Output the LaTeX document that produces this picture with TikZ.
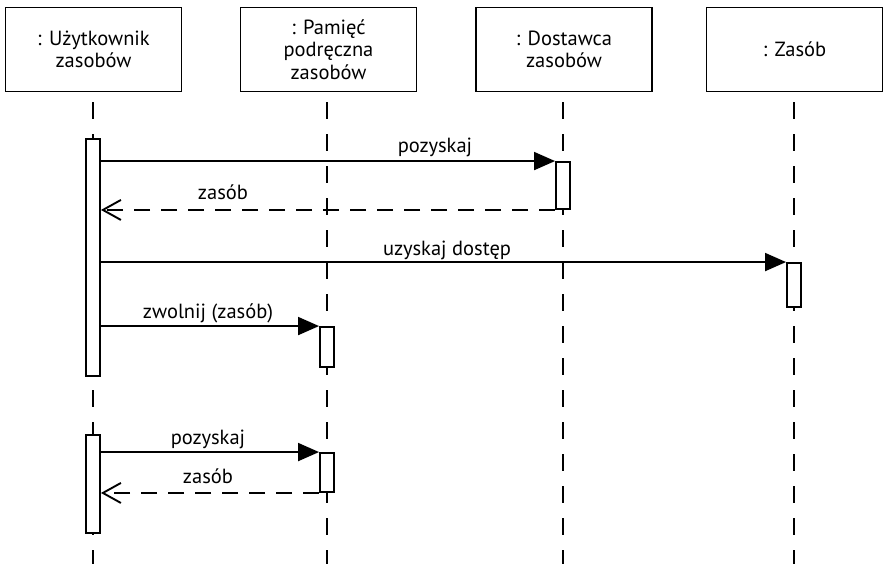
\documentclass[tikz,border=0pt]{standalone}
\usepackage{fontspec}
\setmainfont{PT Sans}
\usetikzlibrary{arrows.meta}
\begin{document}
\begin{tikzpicture}[x=1pt,y=-1pt,
  head/.style={draw, line width=1.9pt, minimum width=176pt, minimum height=84pt, align=center, font=\fontsize{20.5}{22.5}\selectfont, inner sep=0pt},
  act/.style={draw, fill=white, line width=1.9pt, minimum width=14pt, inner sep=0pt},
  life/.style={line width=1.9pt, dash pattern=on 17pt off 15pt},
  call/.style={line width=1.9pt, -{Triangle[length=21pt,width=18pt]}},
  ret/.style={line width=1.9pt, dash pattern=on 16pt off 11pt, -{Straight Barb[length=18pt,width=20pt]}},
  lbl/.style={font=\fontsize{20.5}{22.5}\selectfont, anchor=base, inner sep=0pt}]
\useasboundingbox (0,0) rectangle (886,564);
\coordinate (bot) at (0,566);
% headers
\node[head] (h1) at (93.5,49.5) {: Użytkownik\\zasobów};
\node[head] (h2) at (328.5,49.5) {: Pamięć\\podręczna\\zasobów};
\node[head] (h3) at (564,49.5) {: Dostawca\\zasobów};
\node[head] (h4) at (794.5,49.5) {: Zasób};
% lifeline anchors
\coordinate (x1) at (93,0);
\coordinate (x2) at (327,0);
\coordinate (x3) at (563,0);
\coordinate (x4) at (794,0);
% lifelines
\draw[life] ([yshift=-10pt]h1.south -| x1) -- (x1 |- bot);
\draw[life] ([yshift=-10pt]h2.south -| x2) -- (x2 |- bot);
\draw[life] ([yshift=-10pt]h3.south -| x3) -- (x3 |- bot);
\draw[life] ([yshift=-10pt]h4.south -| x4) -- (x4 |- bot);
% activations
\node[act, minimum height=237pt] (u1) at (93,257.5) {};
\node[act, minimum height=47pt] (p1) at (563,185.5) {};
\node[act, minimum height=44pt] (r1) at (794,285) {};
\node[act, minimum height=40pt] (c1) at (327,347) {};
\node[act, minimum height=98pt] (u2) at (93,484) {};
\node[act, minimum height=39pt] (c2) at (327,472.5) {};
% messages
\draw[call] (u1.east |- p1.north) -- (p1.north west);
\draw[ret] (p1.south west) -- (u1.east |- p1.south);
\draw[call] (u1.east |- r1.north) -- (r1.north west);
\draw[call] (u1.east |- c1.north) -- (c1.north west);
\draw[call] (u2.east |- c2.north) -- (c2.north west);
\draw[ret] (c2.south west) -- (u2.east |- c2.south);
% labels
\node[lbl] (l1) at (435,153) {pozyskaj};
\node[lbl] (l2) at (223,200) {zasób};
\node[lbl] (l3) at (447,255) {uzyskaj dostęp};
\node[lbl] (l4) at (208,318) {zwolnij (zasób)};
\node[lbl] (l5) at (208,444) {pozyskaj};
\node[lbl] (l6) at (208,483) {zasób};
\end{tikzpicture}
\end{document}
